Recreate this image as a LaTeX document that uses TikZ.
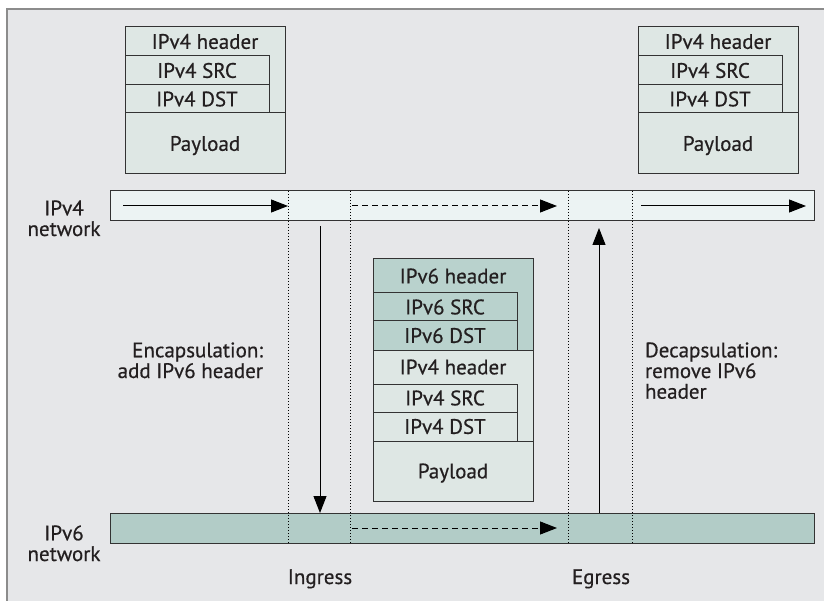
\documentclass[tikz,border=0pt]{standalone}
\usepackage{fontspec}
\setmainfont{PT Sans}[FakeBold=0.5]
\usetikzlibrary{arrows.meta,calc}
\definecolor{bgc}{HTML}{E6E7E9}
\definecolor{framec}{HTML}{8C8C8C}
\definecolor{pkfour}{HTML}{DEE7E4}
\definecolor{pksix}{HTML}{B9D2CD}
\definecolor{barfour}{HTML}{ECF3F3}
\definecolor{barsix}{HTML}{B2CCC7}
\definecolor{linec}{HTML}{333333}
\definecolor{txtc}{HTML}{231F20}
\begin{document}
\begin{tikzpicture}[x=1pt,y=-1pt,
  every node/.style={font=\fontsize{21}{20.7}\selectfont, text=txtc, inner sep=0pt, outer sep=0pt},
  cell/.style={draw=linec, line width=1pt, anchor=north west, text height=14.7pt, text depth=0pt},
  rowtext/.style={anchor=north west, text height=14.7pt, text depth=0pt},
  bar/.style={draw=linec, line width=1pt, anchor=north west, minimum width=704, minimum height=30},
  arr/.style={-{Triangle[length=17pt,width=13pt]}, line width=1pt, draw=black},
  dasharr/.style={arr, dash pattern=on 6pt off 4pt},
  sepline/.style={draw=black, line width=0.9pt, dash pattern=on 1pt off 2pt},
  lbl/.style={anchor=base}
]
\useasboundingbox (0,0) rectangle (824,601);
% background and frame
\fill[bgc] (7,9) rectangle (830,610);
\draw[framec, line width=1.8pt] (7,610) -- (7,9) -- (830,9);

% ---- left IPv4 packet
\node[cell, fill=pkfour, minimum width=160, minimum height=86] (lhb) at (125,27) {};
\node[rowtext, minimum width=160, minimum height=29] (lht) at (125,27) {IPv4 header};
\node[cell, fill=pkfour, minimum width=144, minimum height=29] (lsrc) at (125,56) {IPv4 SRC};
\node[cell, fill=pkfour, minimum width=144, minimum height=28] (ldst) at (125,85) {IPv4 DST};
\node[cell, fill=pkfour, minimum width=160, minimum height=61] (lpay) at (125,113) {Payload};

% ---- right IPv4 packet
\node[cell, fill=pkfour, minimum width=160, minimum height=86] (rhb) at (638,27) {};
\node[rowtext, minimum width=160, minimum height=29] (rht) at (638,27) {IPv4 header};
\node[cell, fill=pkfour, minimum width=144, minimum height=29] (rsrc) at (638,56) {IPv4 SRC};
\node[cell, fill=pkfour, minimum width=144, minimum height=28] (rdst) at (638,85) {IPv4 DST};
\node[cell, fill=pkfour, minimum width=160, minimum height=61] (rpay) at (638,113) {Payload};

% ---- middle encapsulated packet
\node[cell, fill=pksix, minimum width=160, minimum height=91] (m6b) at (373,259) {};
\node[rowtext, minimum width=160, minimum height=34] (m6t) at (373,259) {IPv6 header};
\node[cell, fill=pksix, minimum width=144, minimum height=28] (m6src) at (373,293) {IPv6 SRC};
\node[cell, fill=pksix, minimum width=144, minimum height=29] (m6dst) at (373,321) {IPv6 DST};
\node[cell, fill=pkfour, minimum width=160, minimum height=91] (m4b) at (373,350) {};
\node[rowtext, minimum width=160, minimum height=34] (m4t) at (373,350) {IPv4 header};
\node[cell, fill=pkfour, minimum width=144, minimum height=28] (m4src) at (373,384) {IPv4 SRC};
\node[cell, fill=pkfour, minimum width=144, minimum height=29] (m4dst) at (373,412) {IPv4 DST};
\node[cell, fill=pkfour, minimum width=160, minimum height=60] (mpay) at (373,441) {Payload};

% ---- network bars
\node[bar, fill=barfour] (b4) at (110,191) {};
\node[bar, fill=barsix] (b6) at (110,513) {};

% ---- dotted separators
\foreach \x in {288,350,568,632} \draw[sepline] (\x,191) -- (\x,543);

% ---- arrows in bars
\coordinate (a1s) at ($(b4.west)+(13,0)$);
\coordinate (a1e) at ($(b4.west)+(178,0)$);
\coordinate (a2s) at ($(b4.west)+(242,0)$);
\coordinate (a2e) at ($(b4.west)+(447,0)$);
\coordinate (a3s) at ($(b4.west)+(531,0)$);
\coordinate (a3e) at ($(b4.west)+(696,0)$);
\coordinate (a4s) at ($(b6.west)+(242,0)$);
\coordinate (a4e) at ($(b6.west)+(447,0)$);
\draw[arr] (a1s) -- (a1e);
\draw[dasharr] (a2s) -- (a2e);
\draw[arr] (a3s) -- (a3e);
\draw[dasharr] (a4s) -- (a4e);

% ---- vertical arrows
\coordinate (dtop) at (320,226);
\coordinate (utop) at (599,228);
\draw[arr] (dtop) -- (dtop |- b6.north);
\draw[arr] (utop |- b6.north) -- (utop);

% ---- labels (base anchor = baseline of last line)
\node[lbl, align=center] (l4) at (64,236) {IPv4\\network};
\node[lbl, align=center] (l6) at (64,561) {IPv6\\network};
\node[lbl, align=right, anchor=base east] (enc) at (263,378) {Encapsulation:\\add IPv6 header};
\node[lbl, align=left, anchor=base west] (dec) at (645,398.7) {Decapsulation:\\remove IPv6\\header};
\node[lbl] (ing) at (320,584) {Ingress};
\node[lbl] (egr) at (601,584) {Egress};
\end{tikzpicture}
\end{document}
